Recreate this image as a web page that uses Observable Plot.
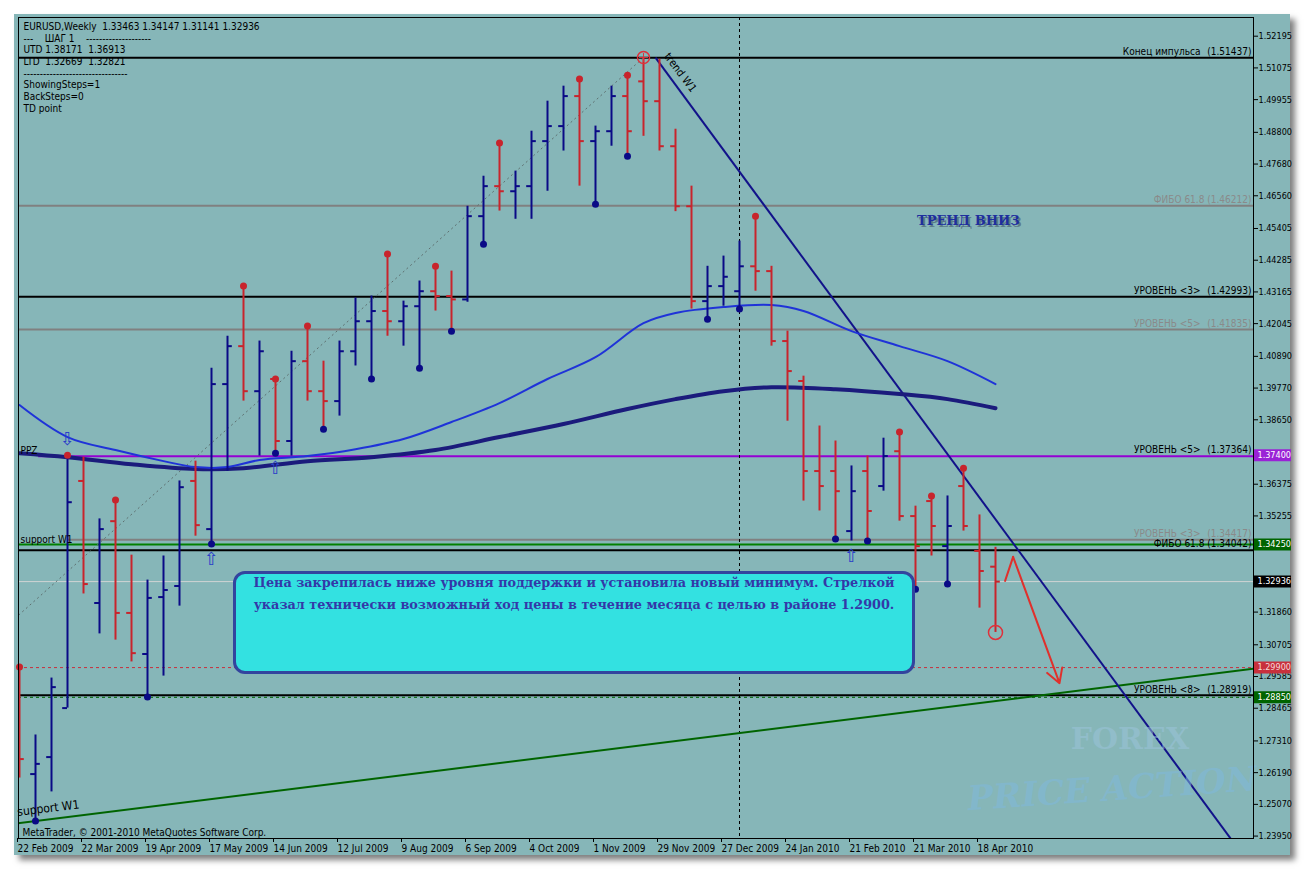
<!DOCTYPE html>
<html><head><meta charset="utf-8">
<script src="https://cdn.jsdelivr.net/npm/d3@7"></script>
<script src="https://cdn.jsdelivr.net/npm/@observablehq/plot@0.6"></script>
<style>
body{margin:0;background:#fff;width:1307px;height:872px;position:relative;overflow:hidden}
#win{position:absolute;left:14px;top:14px;width:1276px;height:841px;background:#86b6b8;box-shadow:5px 5px 6px rgba(0,0,0,0.5)}
#chart{position:absolute;left:0;top:0}
#note{position:absolute;left:233px;top:571px;width:676px;height:97px;background:#33e1e1;border:3px solid #33449e;border-radius:12px;
 color:#3438a8;font-family:"DejaVu Serif",serif;font-weight:bold;font-size:12.8px;line-height:22px;text-align:center;box-sizing:content-box}
#note div{position:relative;top:-2px}
</style></head><body>
<div id="win"></div><div id="chart"></div>
<div id="note"><div>Цена закрепилась ниже уровня поддержки и установила новый минимум. Стрелкой<br>указал технически возможный ход цены в течение месяца с целью в районе 1.2900.</div></div>
<script>
// ---- data (weekly EURUSD bars, index 0 = week of 22 Feb 2009) ----
const open  = [1.2950,1.2614,1.2674,1.2847,1.3649,1.3218,1.3507,1.3183,1.3038,1.3239,1.3278,1.3649,1.3479,1.3991,1.4125,1.3966,1.4009,1.3790,1.4072,1.3966,1.3931,1.4107,1.4213,1.4249,1.4213,1.4266,1.4319,1.4302,1.4290,1.4584,1.4690,1.4672,1.4690,1.4849,1.4902,1.5008,1.4849,1.4884,1.5008,1.5060,1.4990,1.4831,1.4619,1.4284,1.4337,1.4319,1.4407,1.4390,1.4143,1.4002,1.3684,1.3684,1.3472,1.3684,1.3631,1.3754,1.3525,1.3578,1.3419,1.3631,1.3402,1.33463];
const high  = [1.2992,1.2752,1.2953,1.3740,1.3733,1.3515,1.3582,1.3387,1.3299,1.3384,1.3649,1.3719,1.4047,1.4160,1.4337,1.4143,1.4009,1.4107,1.4196,1.4072,1.4143,1.4295,1.4302,1.4450,1.4284,1.4355,1.4407,1.4390,1.4619,1.4725,1.4842,1.4743,1.4884,1.4990,1.5043,1.5068,1.4902,1.5043,1.5082,1.5144,1.5138,1.4891,1.4690,1.4407,1.4443,1.4496,1.4584,1.4407,1.4178,1.4019,1.3843,1.3790,1.3702,1.3737,1.3800,1.3822,1.3560,1.3596,1.3596,1.3694,1.3529,1.34147];
const low   = [1.2600,1.2448,1.2551,1.2847,1.3250,1.3109,1.3087,1.3010,1.2886,1.2960,1.3207,1.3454,1.3426,1.3684,1.3931,1.3737,1.3747,1.3737,1.3931,1.3832,1.3878,1.4055,1.4009,1.4160,1.4125,1.4047,1.4249,1.4178,1.4280,1.4485,1.4602,1.4573,1.4573,1.4672,1.4814,1.4690,1.4626,1.4831,1.4796,1.4866,1.4814,1.4600,1.4256,1.4220,1.4266,1.4256,1.4319,1.4125,1.3860,1.3578,1.3543,1.3444,1.3437,1.3437,1.3613,1.3507,1.3267,1.3384,1.3285,1.3472,1.3200,1.31141];
const close = [1.2667,1.2650,1.2921,1.3574,1.3285,1.3479,1.3183,1.3041,1.3236,1.3264,1.3627,1.3493,1.3991,1.4125,1.3966,1.4107,1.3790,1.4072,1.3966,1.3931,1.4107,1.4213,1.4249,1.4213,1.4266,1.4319,1.4302,1.4290,1.4584,1.4690,1.4672,1.4690,1.4849,1.4902,1.5008,1.4849,1.4884,1.5008,1.4884,1.4990,1.4831,1.4619,1.4284,1.4337,1.4370,1.4407,1.4390,1.4143,1.4037,1.3684,1.3631,1.3613,1.3613,1.3543,1.3737,1.3525,1.3419,1.3490,1.3490,1.3490,1.3331,1.32936];

const fractalHighBars = [0,3,6,14,16,18,23,26,30,35,38,46,55,57,59];
const fractalLowBars  = [1,8,12,16,19,22,25,27,29,36,38,43,45,51,53,56,58];
const arrowDownBars = [3];
const arrowUpBars = [12,16,52];

const maFastIdx = [0,3,6,9,11,13,15,18,21,24,27,30,33,36,39,41,44,47,49,52,55,58,61];
const maFastVal = [1.3917,1.3804,1.3758,1.3719,1.3698,1.3698,1.3723,1.3737,1.3761,1.3797,1.3857,1.3924,1.4009,1.4086,1.4206,1.4242,1.4263,1.4270,1.4249,1.4178,1.4125,1.4072,1.3991];
const maSlowIdx = [0,3,7,11,14,18,22,26,30,34,38,41,44,47,51,55,58,61];
const maSlowVal = [1.3747,1.3733,1.3708,1.3691,1.3694,1.3719,1.3733,1.3758,1.3804,1.3850,1.3903,1.3938,1.3966,1.3980,1.3973,1.3956,1.3938,1.3906];

const xTickBars = [0,4,8,12,16,20,24,28,32,36,40,44,48,52,56,60];
const xTickLabels = ["22 Feb 2009","22 Mar 2009","19 Apr 2009","17 May 2009","14 Jun 2009","12 Jul 2009","9 Aug 2009","6 Sep 2009","4 Oct 2009","1 Nov 2009","29 Nov 2009","27 Dec 2009","24 Jan 2010","21 Feb 2010","21 Mar 2010","18 Apr 2010"];
const yTicks = [1.52195,1.51075,1.49955,1.48800,1.47680,1.46560,1.45405,1.44285,1.43165,1.42045,1.40890,1.39770,1.38650,1.37530,1.36375,1.35255,1.34135,1.33015,1.31860,1.30705,1.29585,1.28465,1.27310,1.26190,1.25070,1.23950];
const yTicksCovered = [1.37530,1.34135,1.33015];

const levelPrices = [1.51437,1.46212,1.42993,1.41835,1.37364,1.34417,1.34250,1.34042,1.28919];
const levelColors = ["#000","#808080","#000","#808080","#9400d3","#808080","#008000","#000","#000"];
const levelStart  = [-1,-1,-1,-1,1.2,3,-1,-1,-1];
const dashedPrices = [1.29900,1.28850];
const dashedColors = ["#c8303c","#006400"];
const bidPrice = 1.32936;

const labelPrices = [1.51437,1.42993,1.41835,1.37364,1.34417,1.28919];
const labelNames  = ["Конец импульса","УРОВЕНЬ <3>","УРОВЕНЬ <5>","УРОВЕНЬ <5>","УРОВЕНЬ <3>","УРОВЕНЬ <8>"];
const labelColors = ["#000","#000","#8a8a8a","#000","#8a8a8a","#000"];
const fiboPrices = [1.46212,1.34042];
const fiboColors = ["#8a8a8a","#000"];

const boxPrices = [1.37400,1.34250,1.32936,1.29900,1.28850];
const boxFills  = ["#9a22d6","#006400","#000000","#c8303c","#006400"];
const boxText   = ["#ffffff","#ffffff","#ffffff","#f4d8d8","#ffffff"];

const trendW1 = {i1:39.75, p1:1.51437, i2:75.7, p2:1.2386};
const supportW1 = {i1:-1, p1:1.2434, i2:78, p2:1.2992};
const guide = {i1:-0.06, p1:1.3175, i2:39, p2:1.5144};
const redHook = [{i:61.6,p:1.3296},{i:62.1,p:1.3381}];
const redArrow = {i1:62.1, p1:1.3381, i2:65.0, p2:1.2935};
const vLineBar = 45;
const circleTop = {i:39, p:1.5144};
const circleLow = {i:61, p:1.31141};

const infoLines = ["EURUSD,Weekly  1.33463 1.34147 1.31141 1.32936","---    ШАГ 1    --------------------","UTD 1.38171  1.36913","LTD  1.32669  1.32821","--------------------------------","ShowingSteps=1","BackSteps=0","TD point"];

// ---- build ----
const bars = open.map((o,i)=>({i,o,h:high[i],l:low[i],c:close[i],col: close[i]>=o ? "#0a0a86" : "#c8242c"}));
const lv = levelPrices.map((p,k)=>({p,color:levelColors[k],from:levelStart[k]}));
const dl = dashedPrices.map((p,k)=>({p,color:dashedColors[k]}));
const maF = maFastIdx.map((i,k)=>({i,v:maFastVal[k]}));
const maS = maSlowIdx.map((i,k)=>({i,v:maSlowVal[k]}));
const lab = labelPrices.map((p,k)=>({p,name:labelNames[k],val:"("+p.toFixed(5)+")",color:labelColors[k]}));
const fib = fiboPrices.map((p,k)=>({p,text:"ФИБО 61.8 ("+p.toFixed(5)+")",color:fiboColors[k]}));
const bx = boxPrices.map((p,k)=>({p,fill:boxFills[k],tc:boxText[k],t:p.toFixed(5)}));
const FONT = "'DejaVu Sans Condensed','DejaVu Sans',sans-serif";

const chart = Plot.plot({
  width: 1294, height: 872,
  marginLeft: 18, marginRight: 41, marginTop: 17, marginBottom: 34,
  x: {domain: [-0.0625, 77.125]},
  y: {domain: [1.23865, 1.52855]},
  color: {type: "identity"},
  style: {background: "transparent", overflow: "hidden", fontFamily: FONT, fontSize: "10px", color: "#000"},
  marks: [
    // levels
    Plot.ruleY(lv, {y: "p", x1: "from", x2: () => 80, stroke: "color", strokeWidth: 2, clip: true}),
    Plot.ruleY([bidPrice], {stroke: "#cfd4d4", strokeWidth: 1}),
    Plot.ruleY(dl, {y: "p", stroke: "color", strokeWidth: 1, strokeDasharray: "3,3"}),
    Plot.ruleX([vLineBar], {stroke: "#000", strokeDasharray: "3,3", strokeWidth: 1}),
    // trend lines
    Plot.link([guide], {x1: "i1", y1: "p1", x2: "i2", y2: "p2", stroke: "#5e7070", strokeDasharray: "2,3", strokeWidth: 1, clip: true}),
    Plot.link([supportW1], {x1: "i1", y1: "p1", x2: "i2", y2: "p2", stroke: "#006400", strokeWidth: 2, clip: true}),
    Plot.link([trendW1], {x1: "i1", y1: "p1", x2: "i2", y2: "p2", stroke: "#12128a", strokeWidth: 2, clip: true}),
    // moving averages
    Plot.line(maS, {x: "i", y: "v", stroke: "#1b1b7c", strokeWidth: 4, curve: "catmull-rom", clip: true}),
    Plot.line(maF, {x: "i", y: "v", stroke: "#1f33d8", strokeWidth: 2, curve: "catmull-rom", clip: true}),
    // OHLC bars
    Plot.ruleX(bars, {x: "i", y1: "l", y2: "h", stroke: "col", strokeWidth: 2, clip: true}),
    Plot.ruleY(bars, {y: "o", x1: d => d.i - 0.3, x2: "i", stroke: "col", strokeWidth: 2, clip: true}),
    Plot.ruleY(bars, {y: "c", x1: "i", x2: d => d.i + 0.3, stroke: "col", strokeWidth: 2, clip: true}),
    // fractal dots
    Plot.dot(fractalHighBars.map(i => bars[i]), {x: "i", y: "h", r: 3.5, fill: "#c8242c"}),
    Plot.dot(fractalLowBars.map(i => bars[i]), {x: "i", y: "l", r: 3.5, fill: "#0a0a86"}),
    Plot.text(arrowDownBars.map(i => bars[i]), {x: "i", y: "h", text: () => "⇩", dy: -16, fontSize: 18, fill: "#2a40c8", fontFamily: "DejaVu Sans"}),
    Plot.text(arrowUpBars.map(i => bars[i]), {x: "i", y: "l", text: () => "⇧", dy: 15, fontSize: 18, fill: "#2a40c8", fontFamily: "DejaVu Sans"}),
    Plot.dot([circleTop], {x: "i", y: "p", r: 6, stroke: "#e0303a", strokeWidth: 1.5}),
    Plot.dot([circleTop], {x: "i", y: "p", r: 3, symbol: "plus", stroke: "#e0303a", strokeWidth: 1}),
    Plot.dot([circleLow], {x: "i", y: "p", r: 7, stroke: "#e0303a", strokeWidth: 1.5}),
    // red forecast arrow
    Plot.line(redHook, {x: "i", y: "p", stroke: "#e0302c", strokeWidth: 2}),
    Plot.arrow([redArrow], {x1: "i1", y1: "p1", x2: "i2", y2: "p2", stroke: "#e0302c", strokeWidth: 2, headLength: 12}),
    // level labels
    Plot.text(lab, {y: "p", text: "name", frameAnchor: "right", textAnchor: "end", dx: -53, dy: -6, fill: "color"}),
    Plot.text(lab, {y: "p", text: "val", frameAnchor: "right", textAnchor: "end", dx: -2, dy: -6, fill: "color"}),
    Plot.text(fib, {y: "p", text: "text", frameAnchor: "right", textAnchor: "end", dx: -2, dy: -6, fill: "color"}),
    Plot.text([1.37364], {y: d => d, text: () => "PPZ", frameAnchor: "left", textAnchor: "start", dx: 2, dy: -5}),
    Plot.text([1.34417], {y: d => d, text: () => "support W1", frameAnchor: "left", textAnchor: "start", dx: 2, dy: 0}),
    // trend line captions
    Plot.text([{i: 41.3, p: 1.5091}], {x: "i", y: "p", text: () => "trend W1", rotate: 53, fontSize: 11, fill: "#000"}),
    Plot.text([{i: 1.8, p: 1.2493}], {x: "i", y: "p", text: () => "support W1", rotate: -7, fontSize: 12, fill: "#000"}),
    Plot.text([{i: 59.3, p: 1.4566}], {x: "i", y: "p", text: () => "ТРЕНД ВНИЗ", dx: 2, dy: 2, fontSize: 13, fontWeight: "bold", fontFamily: "DejaVu Serif", fill: "#5c7c88"}),
    Plot.text([{i: 59.3, p: 1.4566}], {x: "i", y: "p", text: () => "ТРЕНД ВНИЗ", fontSize: 13, fontWeight: "bold", fontFamily: "DejaVu Serif", fill: "#1e2e9e"}),
    // watermark
    Plot.text([{i: 69.4, p: 1.2738}], {x: "i", y: "p", text: () => "FOREX", fontSize: 30, fontWeight: "bold", fontFamily: "DejaVu Serif", fill: "#9cc4dc", fillOpacity: 0.5}),
    Plot.text([{i: 68.3, p: 1.2560}], {x: "i", y: "p", text: () => "PRICE ACTION", rotate: -4, fontSize: 34, fontWeight: "bold", fontStyle: "italic", fontFamily: "DejaVu Serif", fill: "#80b8dc", fillOpacity: 0.55}),
    // info and copyright
    Plot.text([infoLines.join("\n")], {text: d => d, frameAnchor: "top-left", lineAnchor: "top", textAnchor: "start", dx: 5, dy: 4, lineHeight: 1.17}),
    Plot.text(["MetaTrader, © 2001-2010 MetaQuotes Software Corp."], {text: d => d, frameAnchor: "bottom-left", lineAnchor: "bottom", textAnchor: "start", dx: 4, dy: -3}),
    // frame & axes
    Plot.frame({stroke: "#000", strokeWidth: 1}),
    Plot.axisX({ticks: xTickBars, tickFormat: d => xTickLabels[xTickBars.indexOf(d)], textAnchor: "start", dx: -2, tickSize: 4, tickPadding: 2, label: null}),
    Plot.axisY({anchor: "right", ticks: yTicks, tickFormat: d => yTicksCovered.includes(d) ? "" : d.toFixed(5), tickSize: 4, tickPadding: 1, fontSize: 9, label: null}),
    // price boxes on axis
    Plot.ruleY(bx, {y: "p", stroke: "fill", strokeWidth: 12, insetLeft: 1236, insetRight: -38}),
    Plot.text(bx, {y: "p", text: "t", fill: "tc", frameAnchor: "right", textAnchor: "start", dx: 4, fontSize: 9})
  ]
});
document.getElementById("chart").appendChild(chart);
</script></body></html>
